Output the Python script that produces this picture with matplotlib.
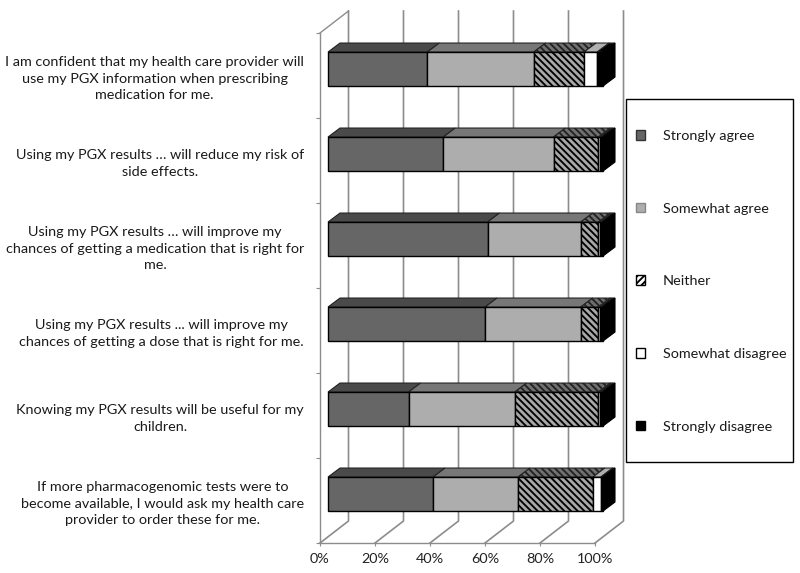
import matplotlib
matplotlib.use("Agg")
import matplotlib.pyplot as plt
from matplotlib.patches import Patch, Polygon, Rectangle
import numpy as np

plt.rcParams['font.family'] = ['Lato', 'DejaVu Sans']
plt.rcParams['hatch.linewidth'] = 1.35

questions = [
    "I am confident that my health care provider will\nuse my PGX information when prescribing\nmedication for me.",
    "Using my PGX results … will reduce my risk of\nside effects.",
    "Using my PGX results … will improve my\nchances of getting a medication that is right for\nme.",
    "Using my PGX results ... will improve my\nchances of getting a dose that is right for me.",
    "Knowing my PGX results will be useful for my\nchildren.",
    "If more pharmacogenomic tests were to\nbecome available, I would ask my health care\nprovider to order these for me.",
]
responses = ["Strongly agree", "Somewhat agree", "Neither", "Somewhat disagree", "Strongly disagree"]
strongly_agree = [36.1, 41.9, 58.0, 57.1, 29.3, 38.2]
somewhat_agree = [38.7, 40.1, 33.9, 34.8, 38.6, 30.9]
neither = [18.3, 16.3, 6.4, 6.4, 30.4, 27.2]
somewhat_disagree = [4.8, 0.7, 0.7, 0.7, 0.7, 2.9]
strongly_disagree = [2.1, 1.0, 1.0, 1.0, 1.0, 0.8]
series = [strongly_agree, somewhat_agree, neither, somewhat_disagree, strongly_disagree]
x_ticks = [0, 20, 40, 60, 80, 100]
x_labels = ["0%", "20%", "40%", "60%", "80%", "100%"]

W, H = 800, 573
FS = 10.4
fig = plt.figure(figsize=(W / 100, H / 100), dpi=100, facecolor='white')
ax = fig.add_axes([320 / W, 1 - 543 / H, 275 / W, 510 / H])
ax.set_xlim(0, 100)
ax.set_ylim(6, 0)
ax.patch.set_alpha(0)

# 3D offsets in data units
wall_dx, wall_dy = 28.5 / 2.75, 22 / 85
bar_x0 = 8 / 2.75
bar_dx, bar_dy = 12 / 2.75, 9 / 85
bar_h = 0.4
bar_pos = np.arange(6) + 0.424

grid = '#8c8c8c'
for x in x_ticks:
    ax.plot([x, x + wall_dx, x + wall_dx], [6, 6 - wall_dy, -wall_dy], color=grid, lw=1.2, clip_on=False, zorder=1)
ax.plot([0, wall_dx], [0, -wall_dy], color=grid, lw=1.0, clip_on=False, zorder=1)

fronts = ['#666666', '#adadad', '#a8a8a8', 'white', 'black']
tops = ['#4a4a4a', '#777777', '#707070', '#b0b0b0', 'black']
hatches = [None, None, '\\\\\\\\\\', None, None]

left = np.full(6, bar_x0)
for vals, fc, tc, h in zip(series, fronts, tops, hatches):
    vals = np.array(vals)
    bars = ax.barh(bar_pos, vals, left=left, height=bar_h, color=fc, edgecolor='black', linewidth=1.0, hatch=h, zorder=3)
    for b in bars:
        b.set_clip_on(False)
    for y, l, v in zip(bar_pos, left, vals):
        top_y = y - bar_h / 2
        ax.add_patch(Polygon([(l, top_y), (l + v, top_y), (l + v + bar_dx, top_y - bar_dy), (l + bar_dx, top_y - bar_dy)],
                             closed=True, facecolor=tc, edgecolor='#222222', linewidth=0.8, hatch=h, clip_on=False, zorder=2.5))
    left = left + vals

for y, r in zip(bar_pos, left):
    t, b = y - bar_h / 2, y + bar_h / 2
    ax.add_patch(Polygon([(r, t), (r + bar_dx, t - bar_dy), (r + bar_dx, b - bar_dy), (r, b)],
                         closed=True, facecolor='black', edgecolor='black', linewidth=0.8, clip_on=False, zorder=3.5))

for s in ['top', 'right']:
    ax.spines[s].set_visible(False)
for s in ['left', 'bottom']:
    ax.spines[s].set_color(grid)
    ax.spines[s].set_linewidth(1.0)

ax.set_xticks(x_ticks, x_labels, fontsize=FS)
ax.tick_params(axis='x', length=2, color=grid, pad=5, labelcolor='#222222')
ax.set_yticks(np.arange(7))
ax.set_yticklabels([])
ax.set_yticks(np.arange(6) + 0.5, questions, minor=True, fontsize=FS, ma='center', linespacing=1.45, color='#1a1a1a')
ax.tick_params(axis='y', which='major', length=3, color=grid)
ax.tick_params(axis='y', which='minor', length=0, pad=11.5)

# legend box
fig.add_artist(Rectangle((626 / W, 1 - 462 / H), 167 / W, 363 / H, transform=fig.transFigure,
                         facecolor='white', edgecolor='black', linewidth=1.0))
handles = [Patch(facecolor='#666666', edgecolor='#333333'),
           Patch(facecolor='#adadad', edgecolor='#888888'),
           Patch(facecolor='white', edgecolor='black', hatch='/////'),
           Patch(facecolor='white', edgecolor='black'),
           Patch(facecolor='black', edgecolor='black')]
leg = fig.legend(handles, responses, loc='upper left', bbox_to_anchor=(636 / W, 1 - 130 / H),
                 frameon=False, borderpad=0, borderaxespad=0, fontsize=FS,
                 labelspacing=4.2, handlelength=0.65, handleheight=0.65, handletextpad=1.2,
                 labelcolor='#1a1a1a')
leg.set_zorder(5)

fig.savefig('out.png', dpi=100, facecolor='white')
